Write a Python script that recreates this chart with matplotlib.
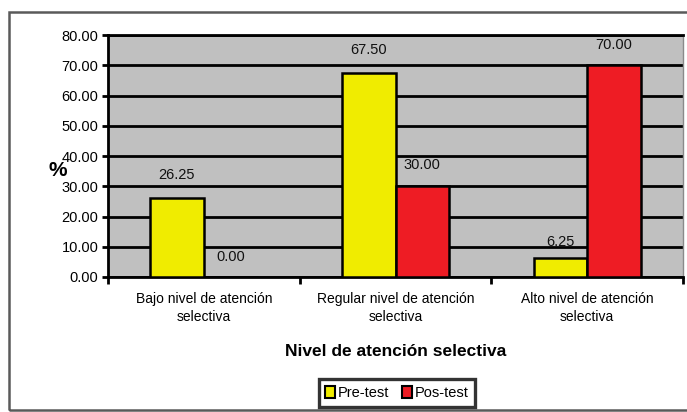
import matplotlib
matplotlib.use("Agg")
import matplotlib.pyplot as plt
from matplotlib.patches import Rectangle, Patch
import numpy as np

categories = ["Bajo nivel de atención\nselectiva",
              "Regular nivel de atención\nselectiva",
              "Alto nivel de atención\nselectiva"]
pre_test = [26.25, 67.50, 6.25]
pos_test = [0.00, 30.00, 70.00]
series_names = ["Pre-test", "Pos-test"]
yticks = [0, 10, 20, 30, 40, 50, 60, 70, 80]

# label offsets in pixels (style)
pre_off = [23, 23, 16]
pos_off = [20, 21, 20]

plt.rcParams['font.family'] = ['Liberation Sans', 'DejaVu Sans']

fig = plt.figure(figsize=(6.87, 4.12), dpi=100)
fig.patch.set_facecolor('white')

# outer frame
fig.patches.append(Rectangle((9/687, 2/412), 1.2, 1 - 14/412, transform=fig.transFigure,
                             fill=False, edgecolor='#5a5a5a', linewidth=1.8, zorder=0))

ax = fig.add_axes([108/687, 1 - 277/412, (683-108)/687, (277-35)/412])
ax.set_facecolor('#c0c0c0')

x = np.arange(len(categories))
w = 0.28
yellow = '#f0ec00'
red = '#ee1c24'
ax.bar(x - w/2, pre_test, w, color=yellow, edgecolor='black', linewidth=1.8, zorder=3)
ax.bar(x + w/2, pos_test, w, color=red, edgecolor='black', linewidth=1.8, zorder=3)

for xi, v, off in zip(x - w/2, pre_test, pre_off):
    ax.annotate(f"{v:.2f}", (xi, v), xytext=(0, off), textcoords='offset pixels',
                ha='center', va='center', fontsize=10.5, color='#111111', zorder=5)
for xi, v, off in zip(x + w/2, pos_test, pos_off):
    ax.annotate(f"{v:.2f}", (xi, v), xytext=(0, off), textcoords='offset pixels',
                ha='center', va='center', fontsize=10.5, color='#111111', zorder=5)

ax.set_ylim(0, 80)
ax.set_xlim(-0.5, len(categories) - 0.5)
ax.set_yticks(yticks)
ax.set_yticklabels([f"{t:.2f}" for t in yticks], fontsize=10.5)
ax.yaxis.grid(True, color='black', linewidth=2, zorder=1)
ax.set_axisbelow(True)
ax.tick_params(axis='y', direction='out', length=4, width=2, pad=3)

ax.set_xticks(x)
ax.set_xticklabels(categories, fontsize=10, linespacing=1.35)
ax.tick_params(axis='x', which='major', length=0, pad=11)
ax.set_xticks(np.arange(-0.5, len(categories)), minor=True)
ax.tick_params(axis='x', which='minor', direction='out', length=5, width=2)

for s in ['left', 'bottom', 'top']:
    ax.spines[s].set_color('black')
    ax.spines[s].set_linewidth(2)
ax.spines['right'].set_color('#8a8a8a')
ax.spines['right'].set_linewidth(1)

fig.text(58/687, 1 - 170/412, '%', fontsize=15, fontweight='bold', ha='center', va='center')
fig.text(396/687, 1 - 351/412, 'Nivel de atención selectiva', fontsize=12.5,
         fontweight='bold', ha='center', va='center')

handles = [Patch(facecolor=yellow, edgecolor='black', linewidth=1.5),
           Patch(facecolor=red, edgecolor='black', linewidth=1.5)]
leg = fig.legend(handles, series_names, loc='center', bbox_to_anchor=(397/687, 1 - 393/412),
                 ncol=2, fontsize=10.5, frameon=True, fancybox=False, handlelength=0.65,
                 handleheight=0.9, handletextpad=0.2, columnspacing=0.9,
                 borderpad=0.45, borderaxespad=0)
leg.get_frame().set_edgecolor('black')
leg.get_frame().set_linewidth(2.4)

fig.savefig('out.png', dpi=100)
